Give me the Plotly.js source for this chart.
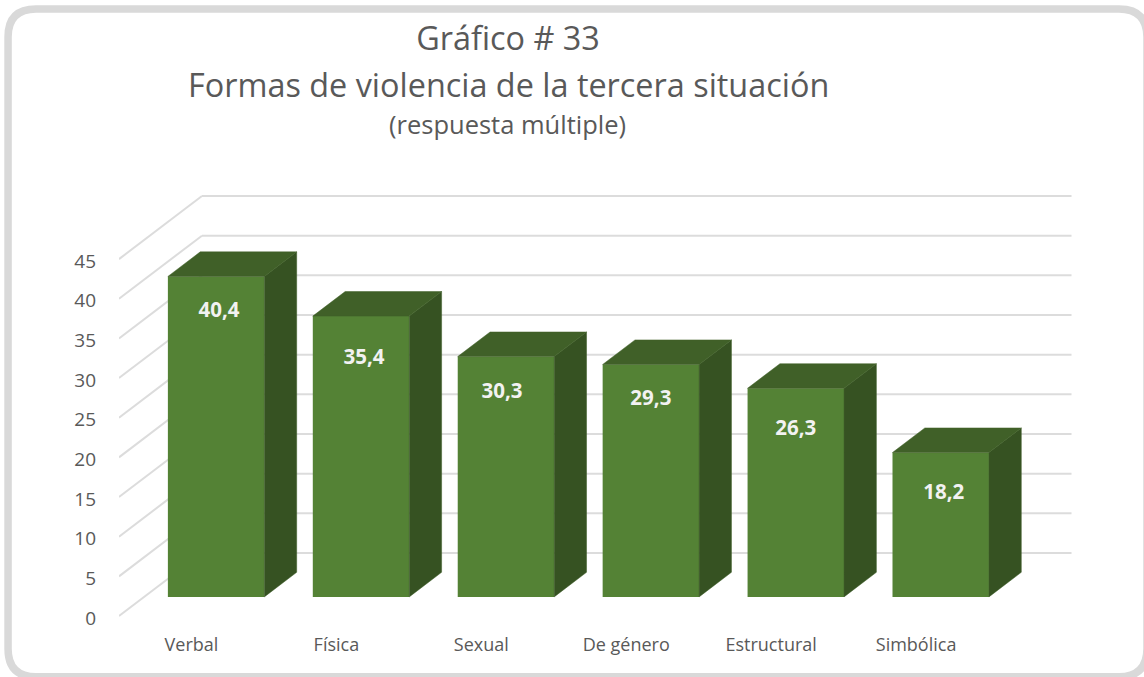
<!DOCTYPE html>
<html>
<head>
<meta charset="utf-8">
<script src="https://cdn.plot.ly/plotly-3.0.1.min.js"></script>
<style>html,body{margin:0;padding:0;background:#fff}#chart{width:1144px;height:677px}</style>
</head>
<body>
<div id="chart"></div>
<script>
const categories = ["Verbal", "Física", "Sexual", "De género", "Estructural", "Simbólica"];
const values = [40.4, 35.4, 30.3, 29.3, 26.3, 18.2];
const valueLabels = ["40,4", "35,4", "30,3", "29,3", "26,3", "18,2"];
const yTicks = [0, 5, 10, 15, 20, 25, 30, 35, 40, 45];

// Placement of the hand-moved data labels (pixels from the bar's centre / top)
const labelShiftX = [3, 3, -4, 0, 0, 3];
const labelDropY = [35, 43, 36, 35, 42, 41];

// Page geometry in pixels
const W = 1144, H = 677;
const pxPerCat = 145, pxPerUnit = 7.926;
const zeroX = 118.5, zeroY = 615.7;          // front-left corner of the box (x = -0.5, value 0)
const plotL = zeroX, plotR = 1082, plotT = 188, plotB = zeroY + 10;
const gridEndX = -0.5 + (1071.5 - zeroX) / pxPerCat;
const wallDx = 83 / pxPerCat, wallDy = 63 / pxPerUnit;   // full depth of the 3-D box
const depthFront = 0.297, depthBack = 0.687;             // where the bars sit in it
const barWidth = 96.5 / pxPerCat;
const tickLabelDrop = 2 / pxPerUnit;

const xMax = -0.5 + (plotR - plotL) / pxPerCat;
const yMin = -(plotB - zeroY) / pxPerUnit;
const yMax = (zeroY - plotT) / pxPerUnit;

// Oblique projection: category position, value, depth (0 front .. 1 back) to axis coordinates
const px = (x, d) => x + d * wallDx;
const py = (v, d) => v + (d + 0.006) * wallDy;

const sideX = [], sideY = [], topX = [], topY = [];
values.forEach((v, i) => {
  const l = i - barWidth / 2, r = i + barWidth / 2;
  sideX.push(px(r, depthFront), px(r, depthBack), px(r, depthBack), px(r, depthFront), px(r, depthFront), null);
  sideY.push(py(0, depthFront), py(0, depthBack), py(v, depthBack), py(v, depthFront), py(0, depthFront), null);
  topX.push(px(l, depthFront), px(l, depthBack), px(r, depthBack), px(r, depthFront), px(l, depthFront), null);
  topY.push(py(v, depthFront), py(v, depthBack), py(v, depthBack), py(v, depthFront), py(v, depthFront), null);
});

const traces = [
  {
    type: "bar",
    x: values.map((v, i) => px(i, depthFront)),
    y: values,
    base: values.map(() => py(0, depthFront)),
    width: barWidth,
    marker: { color: "#548235", line: { width: 0 } },
    hoverinfo: "skip"
  },
  {
    type: "scatter", mode: "lines", x: sideX, y: sideY, fill: "toself",
    fillcolor: "#365222", line: { width: 0.5, color: "#3d5c27" }, hoverinfo: "skip"
  },
  {
    type: "scatter", mode: "lines", x: topX, y: topY, fill: "toself",
    fillcolor: "#406028", line: { width: 0.5, color: "#406028" }, hoverinfo: "skip"
  },
  {
    type: "scatter", mode: "text",
    x: values.map((v, i) => px(i, depthFront) + labelShiftX[i] / pxPerCat),
    y: values.map((v, i) => py(v, depthFront) - labelDropY[i] / pxPerUnit),
    text: valueLabels,
    textposition: "middle center",
    textfont: { family: "Open Sans, sans-serif", size: 20.5, color: "#f2f2f2", weight: 700 },
    hoverinfo: "skip"
  }
];

const shapes = [];
const gridLine = { color: "#dcdcdc", width: 2 };
yTicks.forEach(t => {
  const backY = t + wallDy;
  const backX = -0.5 + wallDx;
  shapes.push({ type: "line", layer: "below", xref: "x", yref: "y",
    x0: -0.5, y0: t, x1: backX, y1: backY, line: gridLine });
  shapes.push({ type: "line", layer: "below", xref: "x", yref: "y",
    x0: backX, y0: backY, x1: gridEndX, y1: backY, line: gridLine });
});

// Rounded outer frame of the chart
const fx = p => (p - plotL) / (plotR - plotL);
const fy = p => (plotB - p) / (plotB - plotT);
const fL = 7.5, fR = 1147, fT = 9, fB = 676.5, rad = 28;
const framePath = [
  `M ${fx(fL + rad)} ${fy(fT)}`, `L ${fx(fR - rad)} ${fy(fT)}`,
  `Q ${fx(fR)} ${fy(fT)} ${fx(fR)} ${fy(fT + rad)}`, `L ${fx(fR)} ${fy(fB - rad)}`,
  `Q ${fx(fR)} ${fy(fB)} ${fx(fR - rad)} ${fy(fB)}`, `L ${fx(fL + rad)} ${fy(fB)}`,
  `Q ${fx(fL)} ${fy(fB)} ${fx(fL)} ${fy(fB - rad)}`, `L ${fx(fL)} ${fy(fT + rad)}`,
  `Q ${fx(fL)} ${fy(fT)} ${fx(fL + rad)} ${fy(fT)} Z`
].join(" ");
shapes.push({ type: "path", layer: "below", xref: "paper", yref: "paper", path: framePath,
  line: { color: "#d9d9d9", width: 7.5 }, fillcolor: "rgba(0,0,0,0)" });

const textColor = "#595959";
const font = "Open Sans, sans-serif";

const layout = {
  width: W, height: H,
  margin: { l: plotL, r: W - plotR, t: plotT, b: H - plotB, pad: 0, autoexpand: false },
  paper_bgcolor: "#ffffff", plot_bgcolor: "rgba(0,0,0,0)",
  showlegend: false, dragmode: false, barmode: "overlay",
  title: {
    text: "Gráfico # 33",
    font: { family: font, size: 32.4, color: textColor },
    x: 508 / W, xref: "container", xanchor: "center",
    y: 1 - 39 / H, yref: "container", yanchor: "middle"
  },
  xaxis: {
    range: [-0.5, xMax], tickmode: "array", tickvals: categories.map((c, i) => i), ticktext: categories,
    showgrid: false, zeroline: false, showline: false, ticks: "", ticklabelstandoff: 6,
    tickfont: { family: font, size: 18, color: textColor }, fixedrange: true
  },
  yaxis: {
    range: [yMin, yMax], tickmode: "array", tickvals: yTicks.map(t => t - tickLabelDrop), ticktext: yTicks.map(String),
    showgrid: false, zeroline: false, showline: false, ticks: "", ticklabelstandoff: 22,
    tickfont: { family: font, size: 19, color: textColor }, fixedrange: true
  },
  annotations: [
    { text: "Formas de violencia de la tercera situación", showarrow: false,
      xref: "paper", yref: "paper", x: fx(508), y: fy(84), xanchor: "center", yanchor: "middle",
      font: { family: font, size: 32.4, color: textColor } },
    { text: "(respuesta múltiple)", showarrow: false,
      xref: "paper", yref: "paper", x: fx(507), y: fy(124), xanchor: "center", yanchor: "middle",
      font: { family: font, size: 25.5, color: textColor } }
  ],
  shapes
};

Plotly.newPlot("chart", traces, layout, { displayModeBar: false, staticPlot: true });
</script>
</body>
</html>
